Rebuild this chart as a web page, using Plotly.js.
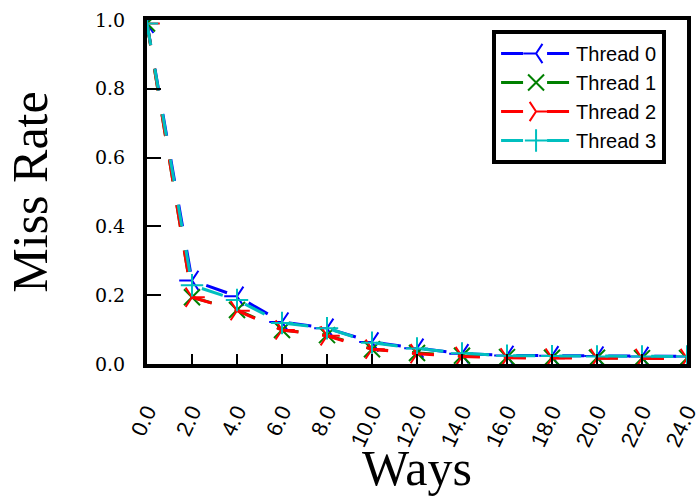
<!DOCTYPE html>
<html>
<head>
<meta charset="utf-8">
<script src="https://cdn.plot.ly/plotly-3.0.1.min.js"></script>
<style>html,body{margin:0;padding:0;background:#fff;}#chart{width:697px;height:496px;}</style>
</head>
<body>
<div id="chart"></div>
<script>
const ways = [0, 2, 4, 6, 8, 10, 12, 14, 16, 18, 20, 22, 24];
const wayLabels = ['0.0', '2.0', '4.0', '6.0', '8.0', '10.0', '12.0', '14.0', '16.0', '18.0', '20.0', '22.0', '24.0'];
const thread0 = [0.99, 0.243, 0.197, 0.122, 0.104, 0.064, 0.046, 0.030, 0.025, 0.024, 0.023, 0.022, 0.022];
const thread1 = [0.99, 0.194, 0.157, 0.099, 0.084, 0.043, 0.032, 0.024, 0.020, 0.018, 0.018, 0.017, 0.017];
const thread2 = [0.99, 0.194, 0.155, 0.099, 0.082, 0.043, 0.030, 0.022, 0.018, 0.017, 0.016, 0.016, 0.016];
const thread3 = [0.99, 0.229, 0.186, 0.119, 0.104, 0.062, 0.045, 0.031, 0.024, 0.023, 0.022, 0.022, 0.022];
const seriesNames = ['Thread 0', 'Thread 1', 'Thread 2', 'Thread 3'];
const seriesColors = ['#0000ff', '#008000', '#ff0000', '#00bfbf'];
const seriesSymbols = ['y-left', 'x-thin-open', 'y-right', 'cross-thin-open'];
const seriesValues = [thread0, thread1, thread2, thread3];

const traces = seriesValues.map((vals, i) => ({
  type: 'scatter',
  mode: 'lines+markers',
  name: seriesNames[i],
  x: ways,
  y: vals,
  line: {color: seriesColors[i], width: 3, dash: '22px,24px'},
  marker: {symbol: seriesSymbols[i], size: 16, color: seriesColors[i],
           line: {color: seriesColors[i], width: 2}}
}));

const layout = {
  width: 697, height: 496,
  margin: {l: 147, r: 10, t: 20, b: 132},
  paper_bgcolor: '#ffffff', plot_bgcolor: '#ffffff',
  showlegend: true,
  legend: {
    x: 0.639, y: 0.971, xanchor: 'left', yanchor: 'top',
    bgcolor: '#ffffff', bordercolor: '#000000', borderwidth: 4,
    font: {family: 'Liberation Sans, Arial, sans-serif', size: 20, color: '#000'},
    itemwidth: 70,
    tracegroupgap: 0
  },
  xaxis: {
    range: [0, 24], tickmode: 'array', tickvals: ways, ticktext: wayLabels,
    showgrid: false, zeroline: false,
    showline: true, linecolor: '#000', linewidth: 4, mirror: true,
    ticks: 'inside', ticklen: 10, tickwidth: 2, tickcolor: '#000',
    tickangle: -65, ticklabelstandoff: 22, ticklabeloverflow: 'allow',
    tickfont: {family: 'Liberation Sans, Arial, sans-serif', size: 22, color: '#000'},
    title: {text: 'Ways', standoff: 13,
            font: {family: 'Liberation Serif, Times New Roman, serif', size: 50, color: '#000'}}
  },
  yaxis: {
    range: [0, 1], dtick: 0.2, tick0: 0, tickformat: '.1f',
    showgrid: false, zeroline: false,
    showline: true, linecolor: '#000', linewidth: 4, mirror: true,
    ticks: 'inside', ticklen: 14, tickwidth: 2, tickcolor: '#000',
    ticklabelstandoff: 14,
    tickfont: {family: 'DejaVu Serif, serif', size: 19, color: '#000'},
    title: {text: 'Miss Rate', standoff: 32,
            font: {family: 'Liberation Serif, Times New Roman, serif', size: 50, color: '#000'}}
  }
};

Plotly.newPlot('chart', traces, layout, {displayModeBar: false, staticPlot: true});
</script>
</body>
</html>
